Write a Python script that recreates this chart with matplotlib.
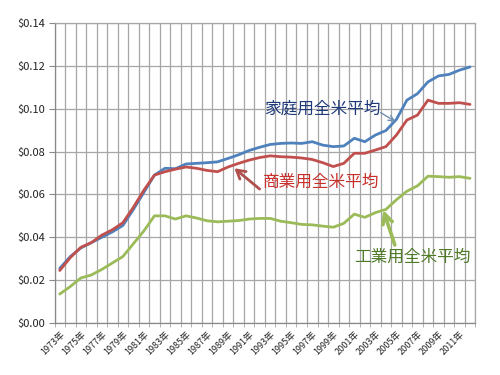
import numpy as np
import matplotlib
matplotlib.use('Agg')
import matplotlib.pyplot as plt
from matplotlib.ticker import FixedLocator, FuncFormatter

plt.rcParams['font.family'] = ['Noto Sans CJK JP', 'DejaVu Sans']

years = list(range(1973, 2013))
year_labels = [f"{y}年" for y in years]

# residential / commercial / industrial average price ($/kWh)
residential = [0.0255, 0.031, 0.035, 0.0375, 0.040, 0.0425, 0.0455, 0.053, 0.061, 0.069,
               0.0722, 0.072, 0.0742, 0.0745, 0.0748, 0.0752, 0.0768, 0.0785, 0.0805, 0.082,
               0.0833, 0.0838, 0.084, 0.0838, 0.0846, 0.083, 0.0823, 0.0826, 0.0862, 0.0846,
               0.0877, 0.0898, 0.095, 0.104, 0.107, 0.1125, 0.1153, 0.116, 0.118, 0.1195]
commercial = [0.0245, 0.0305, 0.0353, 0.0375, 0.041, 0.0435, 0.0468, 0.054, 0.062, 0.069,
              0.0706, 0.0718, 0.0728, 0.0722, 0.0712, 0.0706, 0.0728, 0.0745, 0.076, 0.0772,
              0.078, 0.0776, 0.0774, 0.077, 0.0763, 0.0748, 0.073, 0.0745, 0.0792, 0.0792,
              0.0807, 0.0823, 0.0877, 0.0947, 0.097, 0.104, 0.1025, 0.1025, 0.1028, 0.102]
industrial = [0.0135, 0.017, 0.021, 0.0224, 0.025, 0.028, 0.031, 0.037, 0.043, 0.050,
              0.050, 0.0485, 0.050, 0.049, 0.0477, 0.0472, 0.0475, 0.0478, 0.0485, 0.0488,
              0.0488, 0.0475, 0.0468, 0.046, 0.0458, 0.0452, 0.0447, 0.0465, 0.0508, 0.0493,
              0.0515, 0.053, 0.0575, 0.0615, 0.064, 0.0685, 0.0683, 0.068, 0.0683, 0.0675]

y_ticks = [0.0, 0.02, 0.04, 0.06, 0.08, 0.10, 0.12, 0.14]

fig = plt.figure(figsize=(5, 3.75), dpi=100)
ax = fig.add_axes([0.109, 0.1387, 0.8416, 0.80])

x = np.arange(len(years))
ax.plot(x, residential, color='#4F81BD', lw=2.0, solid_capstyle='round', zorder=3)
ax.plot(x, commercial, color='#C0504D', lw=2.0, solid_capstyle='round', zorder=4)
ax.plot(x, industrial, color='#9BBB59', lw=2.0, solid_capstyle='round', zorder=3)

ax.set_xlim(-0.5, len(years) - 0.5)
ax.set_ylim(0, 0.14)
ax.set_yticks(y_ticks)
ax.yaxis.set_major_formatter(FuncFormatter(lambda v, p: f"${v:.2f}"))
ax.tick_params(axis='y', length=4, width=0.8, color='#888888', labelsize=8, pad=3,
               labelcolor='#222222')
ax.grid(axis='y', color='#A6A6A6', lw=0.9)

# category boundaries -> vertical gridlines
ax.xaxis.set_minor_locator(FixedLocator(np.arange(-0.5, len(years), 1.0)))
ax.xaxis.set_major_locator(FixedLocator(x[::2]))
ax.set_xticklabels(year_labels[::2], rotation=45, ha='right', rotation_mode='anchor',
                   fontsize=6.5, color='#222222')
ax.tick_params(axis='x', which='major', length=0, pad=5)
ax.tick_params(axis='x', which='minor', length=3, color='#A6A6A6')
ax.grid(axis='x', which='minor', color='#A6A6A6', lw=0.9)
ax.set_axisbelow(True)

for side in ['top', 'right']:
    ax.spines[side].set_color('#A6A6A6')
    ax.spines[side].set_linewidth(0.9)
for side in ['left', 'bottom']:
    ax.spines[side].set_color('#888888')
    ax.spines[side].set_linewidth(0.9)

# annotation labels
ax.text(19.4, 0.0999, '家庭用全米平均', fontsize=12, color='#1F3A78', va='center', ha='left')
ax.text(19.3, 0.0655, '商業用全米平均', fontsize=12, color='#C8302C', va='center', ha='left')
ax.text(28.0, 0.0308, '工業用全米平均', fontsize=12, color='#4F7A28', va='center', ha='left')

# annotation arrows
ax.annotate('', xy=(31.9, 0.0940), xytext=(30.5, 0.0982),
            arrowprops=dict(arrowstyle='->, head_length=0.4, head_width=0.2',
                            color='#6F8FB0', lw=1.0, shrinkA=0, shrinkB=0))
ax.annotate('', xy=(16.6, 0.0722), xytext=(19.0, 0.0625),
            arrowprops=dict(arrowstyle='->, head_length=0.6, head_width=0.35',
                            color='#B0504D', lw=2.0, shrinkA=0, shrinkB=0))
ax.annotate('', xy=(30.75, 0.0527), xytext=(31.85, 0.0364),
            arrowprops=dict(arrowstyle='->, head_length=0.7, head_width=0.35',
                            color='#9BBB59', lw=2.6, shrinkA=0, shrinkB=0))

fig.savefig('out.png', dpi=100)
